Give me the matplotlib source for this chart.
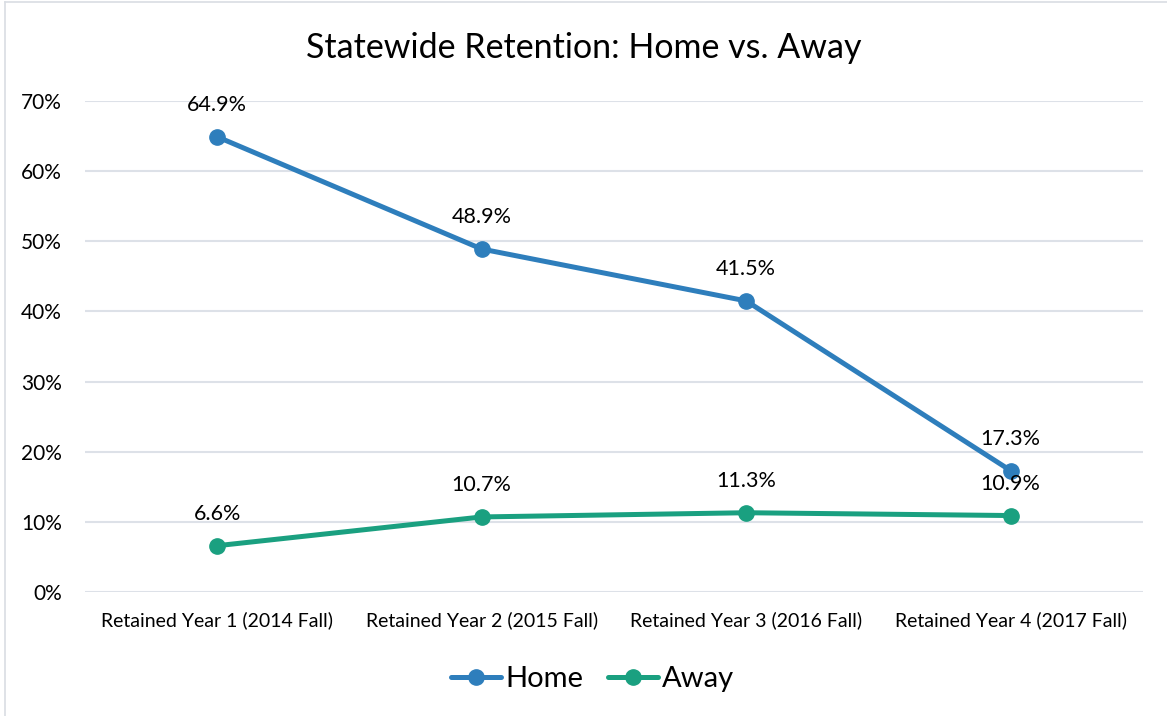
import matplotlib.pyplot as plt
from matplotlib.lines import Line2D

plt.rcParams['font.family'] = ['Lato', 'DejaVu Sans']

categories = ['Retained Year 1 (2014 Fall)', 'Retained Year 2 (2015 Fall)',
              'Retained Year 3 (2016 Fall)', 'Retained Year 4 (2017 Fall)']
home = [64.9, 48.9, 41.5, 17.3]
away = [6.6, 10.7, 11.3, 10.9]
yticks = [0, 10, 20, 30, 40, 50, 60, 70]

home_color = '#2E7EBC'
away_color = '#1AA080'

fig = plt.figure(figsize=(11.67, 7.16), dpi=100)
ax = fig.add_axes([0.0728, 0.1732, 0.9066, 0.6857])

x = range(len(categories))
ax.plot(x, home, color=home_color, lw=3.6, marker='o', ms=11, label='Home',
        solid_capstyle='round', zorder=3)
ax.plot(x, away, color=away_color, lw=3.6, marker='o', ms=11, label='Away',
        solid_capstyle='round', zorder=3)

for xi, v in zip(x, home):
    ax.annotate(f'{v:.1f}%', (xi, v), xytext=(0, 23), textcoords='offset points',
                ha='center', va='center', fontsize=15.5)
for xi, v in zip(x, away):
    ax.annotate(f'{v:.1f}%', (xi, v), xytext=(0, 23), textcoords='offset points',
                ha='center', va='center', fontsize=15.5)

ax.set_xlim(-0.5, 3.5)
ax.set_ylim(0, 70)
ax.set_yticks(yticks)
ax.set_yticklabels([f'{t}%' for t in yticks], fontsize=15)
ax.set_xticks(list(x))
ax.set_xticklabels(categories, fontsize=14)
ax.tick_params(length=0)
ax.tick_params(axis='y', pad=16.5)
ax.tick_params(axis='x', pad=14)
ax.grid(axis='y', color='#DDE1E8', lw=1.5)
ax.set_axisbelow(True)
for s in ax.spines.values():
    s.set_visible(False)

fig.text(0.5, 0.933, 'Statewide Retention: Home vs. Away', ha='center', va='center',
         fontsize=24.5)

handles = [Line2D([], [], color=home_color, lw=3.6, marker='o', ms=11, solid_capstyle='round'),
           Line2D([], [], color=away_color, lw=3.6, marker='o', ms=11, solid_capstyle='round')]
fig.legend(handles, ['Home', 'Away'], loc='center', bbox_to_anchor=(0.508, 0.052), ncol=2,
           frameon=False, fontsize=21, handlelength=1.7, handletextpad=0.15, columnspacing=0.85)

# thin border on the left and top edges, as in the cropped reference
fig.add_artist(Line2D([0.004, 0.004], [0, 0.997], color='#D9DDE3', lw=1.2))
fig.add_artist(Line2D([0.004, 1], [0.997, 0.997], color='#D9DDE3', lw=1.2))

plt.savefig('out.png', dpi=100)
